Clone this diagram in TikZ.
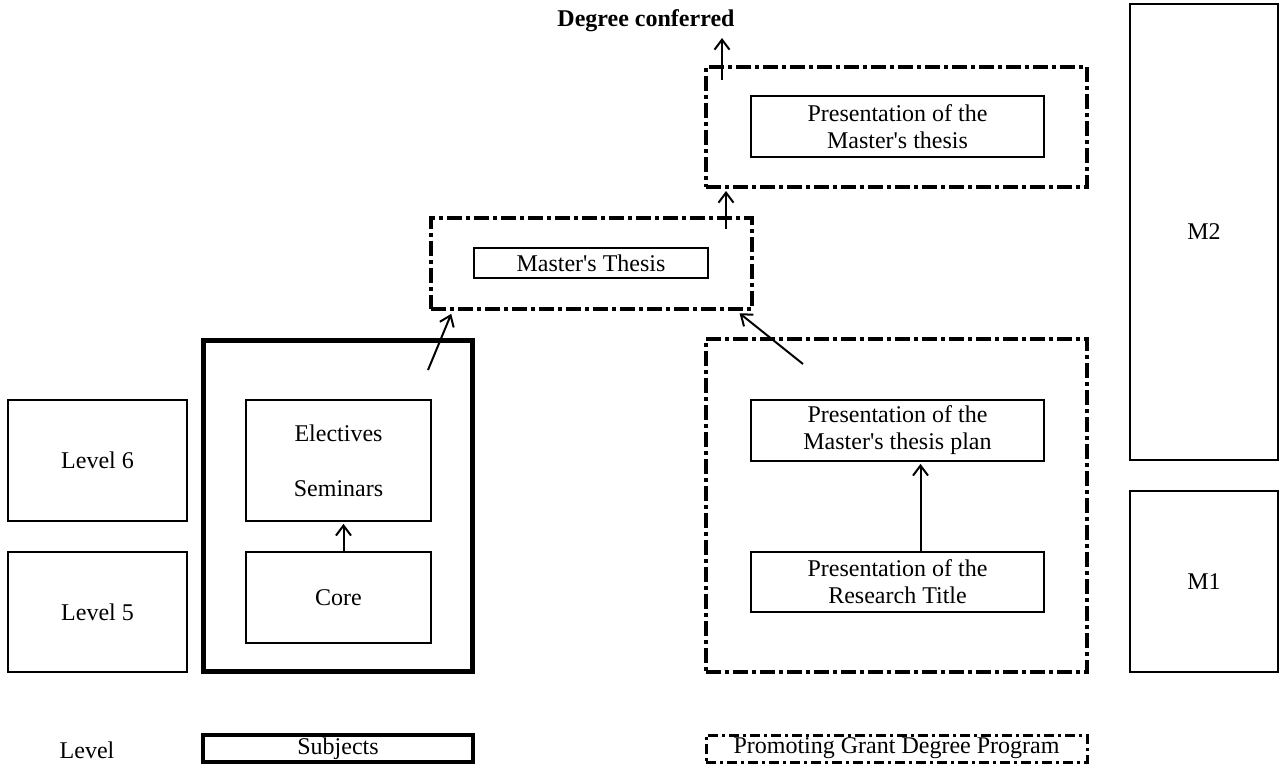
\documentclass[tikz,border=0pt]{standalone}
\usepackage{fontspec}
\setmainfont{Liberation Serif}[Ligatures=TeXOff]
\usetikzlibrary{arrows.meta}

\begin{document}
\begin{tikzpicture}[x=0.5pt,y=-0.5pt,->,shorten >=1pt,line width=1pt,
        >={Straight Barb[length=5pt,width=7.5pt]},
        font=\fontsize{12}{13.5}\selectfont,
        plain box/.style={draw,line width=0.9pt,inner sep=0pt,align=center},
        level box/.style={plain box,minimum width=89.5pt},
        side box/.style={draw,line width=1pt,inner sep=0pt,minimum width=74pt},
        subject frame/.style={draw,line width=2.5pt,inner sep=0pt},
        grant frame/.style={draw,line width=2pt,inner sep=0pt,
            dash pattern=on 7.5pt off 2pt on 2pt off 2pt}]

        \useasboundingbox (0,0) rectangle (1285,766);

        % Define vertices
        \node[level box,minimum height=60.5pt] (lvl6) at (97.5,460.5) {Level 6};
        \node[level box,minimum height=60pt] (lvl5) at (97.5,612) {Level 5};

        \node[subject frame,minimum width=134.5pt,minimum height=165.5pt] (subjfr) at (338,505.5) {};
        \node[plain box,minimum width=92.5pt,minimum height=60.5pt] (elec) at (338.5,460.5) {Electives\\[14pt]Seminars};
        \node[plain box,minimum width=92.5pt,minimum height=45.5pt] (core) at (338.5,597.5) {Core};

        \node[grant frame,minimum width=160.5pt,minimum height=45.5pt] (thesisfr) at (591.5,263) {};
        \node[plain box,minimum width=117pt,minimum height=15pt] (thesis) at (591,263) {Master's Thesis};

        \node[grant frame,minimum width=190.5pt,minimum height=60pt] (presfr) at (896.5,127) {};
        \node[plain box,minimum width=146.5pt,minimum height=30.5pt] (pres) at (897.5,126.5) {Presentation of the\\Master's thesis};

        \node[grant frame,minimum width=190.5pt,minimum height=166.5pt] (grantfr) at (896.5,505.5) {};
        \node[plain box,minimum width=146.5pt,minimum height=30.5pt] (plan) at (897.5,430.5) {Presentation of the\\Master's thesis plan};
        \node[plain box,minimum width=146.5pt,minimum height=30pt] (title) at (897.5,582) {Presentation of the\\Research Title};

        \node[side box,minimum height=228pt] (m2) at (1204,232) {M2};
        \node[side box,minimum height=90.5pt] (m1) at (1204,581.5) {M1};

        \node[font=\fontsize{12}{13.5}\selectfont\bfseries] (degree) at (646,21) {Degree conferred};

        % Key
        \node (lvlkey) at (87,750) {Level};
        \node[subject frame,line width=2pt,minimum width=135pt,minimum height=13.5pt] (subjkey) at (338,748.5) {Subjects};
        \node[grant frame,line width=1.5pt,dash pattern=on 5pt off 2pt on 1.5pt off 2pt,
            minimum width=190.5pt,minimum height=13.5pt] (grantkey) at (896.5,748.5) {Promoting Grant Degree Program};

        % Loose ends
        \coordinate (subjout) at (428,370);
        \coordinate (subjin) at (452,312);
        \coordinate (grantout) at (803,364);
        \coordinate (grantin) at (738,312);
        \coordinate (thesisout) at (726,229);
        \coordinate (presout) at (722,80);
        \coordinate (degin) at (722,36);

        % Draw edges
        \path
            ([xshift=2.5pt]core.north) edge ([xshift=2.5pt]elec.south)
            ([xshift=11.5pt]title.north) edge ([xshift=11.5pt]plan.south)
            (subjout) edge (subjin)
            (grantout) edge (grantin)
            (thesisout) edge (thesisout |- presfr.south)
            (presout) edge (degin);

        \end{tikzpicture}
\end{document}
